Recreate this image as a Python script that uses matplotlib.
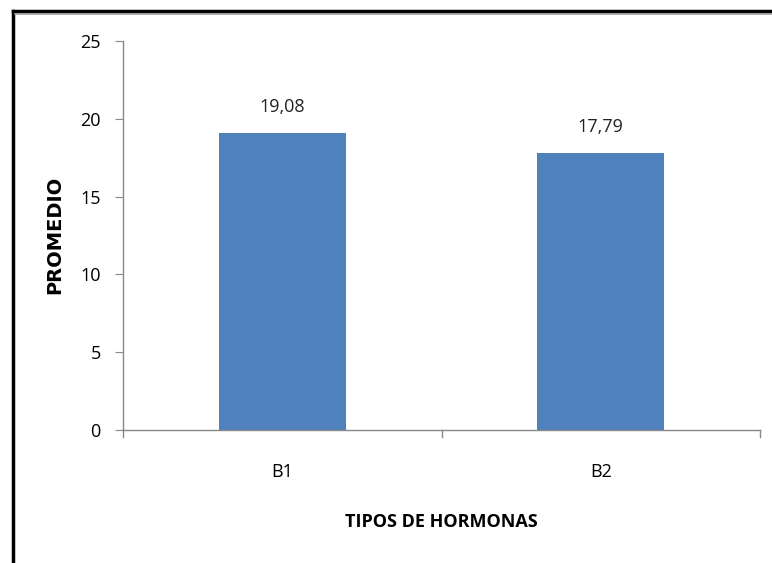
import matplotlib
matplotlib.use("Agg")
import matplotlib.pyplot as plt
from matplotlib.lines import Line2D

categories = ["B1", "B2"]
values = [19.08, 17.79]
value_labels = ["19,08", "17,79"]
yticks = [0, 5, 10, 15, 20, 25]

plt.rcParams['font.family'] = ['Open Sans', 'DejaVu Sans']

fig = plt.figure(figsize=(7.72, 5.63), dpi=100)
ax = fig.add_axes([123/772, 1-430/563, (760-123)/772, (430-41)/563])

x = list(range(len(categories)))
ax.bar(x, values, width=0.4, color='#4F81BD', zorder=2)
for xi, v, lab in zip(x, values, value_labels):
    ax.text(xi, v + 1.1, lab, ha='center', va='bottom', fontsize=13, color='#222222')

ax.set_xlim(-0.5, 1.5)
ax.set_ylim(0, 25)
ax.set_yticks(yticks)
ax.set_yticklabels([str(t) for t in yticks], fontsize=13)
ax.set_xticks(x)
ax.set_xticklabels(categories, fontsize=13)
ax.tick_params(axis='x', length=0, pad=24)
ax.tick_params(axis='y', length=6, color='#888888', pad=10)
for b in [-0.5, 0.5, 1.5]:
    ax.plot([b, b], [0, -0.45], color='#888888', lw=1, clip_on=False)

for s in ['top', 'right']:
    ax.spines[s].set_visible(False)
for s in ['left', 'bottom']:
    ax.spines[s].set_color('#888888')
    ax.spines[s].set_linewidth(1)

fig.text(55/772, 1-235/563, "PROMEDIO", fontsize=14, fontweight='bold', family=['DejaVu Sans'],
         rotation=90, ha='center', va='center')
fig.text(441/772, 1-522/563, "TIPOS DE HORMONAS", fontsize=13, fontweight='bold',
         ha='center', va='center')

fig.add_artist(Line2D([13/772, 13/772], [0, 1-11/563], color='black', lw=2.5, transform=fig.transFigure))
fig.add_artist(Line2D([13/772, 1], [1-11/563, 1-11/563], color='black', lw=2.5, transform=fig.transFigure))
fig.add_artist(Line2D([15.5/772, 1], [1-13.5/563, 1-13.5/563], color='#999999', lw=1.2, transform=fig.transFigure))

fig.savefig("out.png", dpi=100)
